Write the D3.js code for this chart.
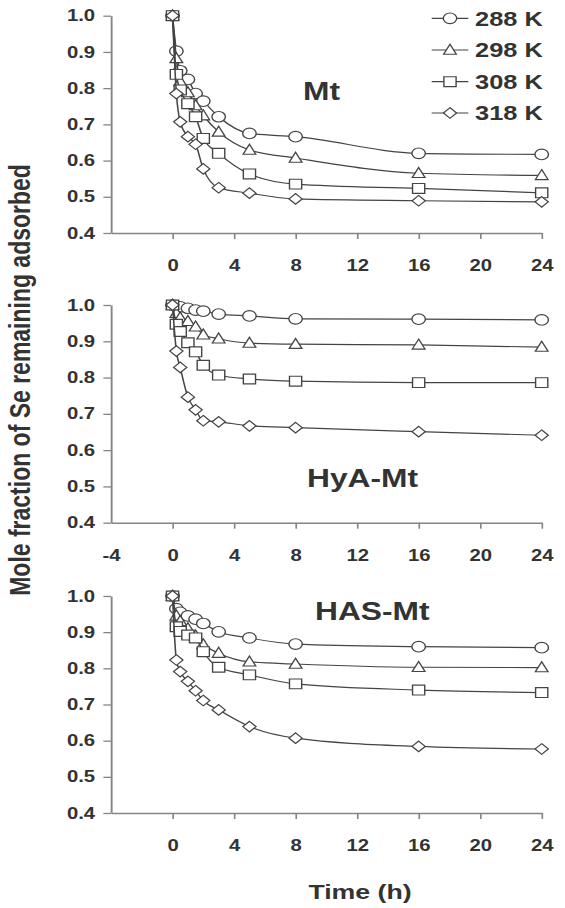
<!DOCTYPE html>
<html>
<head>
<meta charset="utf-8">
<script src="https://cdn.jsdelivr.net/npm/d3@7"></script>
<style>
  body { margin: 0; background: #fff; }
  svg { display: block; }
  text { font-family: "Liberation Sans", Arial, sans-serif; font-weight: bold; fill: #333; }
</style>
</head>
<body>
<svg id="chart" width="565" height="908"></svg>
<script>
// sampling times (h)
var times = [0, 0.25, 0.5, 1, 1.5, 2, 3, 5, 8, 16, 24];
var tempLabels = ["288 K", "298 K", "308 K", "318 K"];
var shapes = ["circle", "triangle", "square", "diamond"];
var panelTitles = ["Mt", "HyA-Mt", "HAS-Mt"];
var xTicks = [0, 4, 8, 12, 16, 20, 24];
var xTicksWithNeg = [-4, 0, 4, 8, 12, 16, 20, 24];
var yTicks = [0.4, 0.5, 0.6, 0.7, 0.8, 0.9, 1.0];

// one row per temperature, 288 K .. 318 K
var mtSeries = [
  [1.0, 0.902, 0.848, 0.824, 0.785, 0.764, 0.721, 0.675, 0.666, 0.620, 0.617],
  [1.0, 0.882, 0.818, 0.788, 0.752, 0.724, 0.679, 0.629, 0.607, 0.565, 0.559],
  [1.0, 0.838, 0.795, 0.757, 0.721, 0.661, 0.620, 0.563, 0.535, 0.523, 0.511],
  [1.0, 0.785, 0.707, 0.666, 0.645, 0.577, 0.525, 0.510, 0.494, 0.489, 0.486]
];
var hyaSeries = [
  [1.0, 0.997, 0.995, 0.991, 0.986, 0.983, 0.975, 0.970, 0.962, 0.961, 0.959],
  [1.0, 0.977, 0.965, 0.955, 0.940, 0.918, 0.907, 0.895, 0.892, 0.890, 0.884],
  [1.0, 0.947, 0.927, 0.896, 0.871, 0.834, 0.807, 0.796, 0.790, 0.786, 0.786],
  [1.0, 0.873, 0.828, 0.746, 0.711, 0.681, 0.678, 0.667, 0.662, 0.651, 0.641]
];
var hasSeries = [
  [1.0, 0.965, 0.955, 0.945, 0.936, 0.924, 0.901, 0.884, 0.867, 0.860, 0.857],
  [1.0, 0.945, 0.930, 0.910, 0.890, 0.866, 0.842, 0.818, 0.812, 0.803, 0.802],
  [1.0, 0.915, 0.902, 0.892, 0.884, 0.846, 0.803, 0.782, 0.757, 0.740, 0.733],
  [1.0, 0.823, 0.791, 0.764, 0.738, 0.711, 0.685, 0.639, 0.607, 0.584, 0.577]
];

var SX = 1.27; // the figure is stretched horizontally
var ix = function(x) { return x / SX; };
var ink = "#444";
var axisColor = "#858585";

var panels = [
  { series: mtSeries,  top: 15.7, bottom: 233,   titleX: 303, titleY: 100, ticks: xTicks },
  { series: hyaSeries, top: 305,  bottom: 522.7, titleX: 307, titleY: 487, ticks: xTicksWithNeg },
  { series: hasSeries, top: 596,  bottom: 813,   titleX: 315, titleY: 620, ticks: xTicks }
];

var markerPath = function(shape) {
  if (shape === "circle") {
    return d3.symbol(d3.symbolCircle, Math.PI * 5.3 * 5.3)();
  } else if (shape === "square") {
    return "M-4.8,-4.9H4.8V4.9H-4.8Z";
  } else if (shape === "triangle") {
    return "M0,-5.8L5,4.2H-5Z";
  } else {
    return "M0,-5.3L5.2,0L0,5.3L-5.2,0Z";
  }
};

// plain hyphen for negatives, like the original
var fmtX = function(d) { return String(d); };

var svg = d3.select("#chart");
var root = svg.append("g").attr("transform", "scale(" + SX + ",1)");

var x = d3.scaleLinear().domain([-4, 24]).range([ix(111), ix(541.7)]);

panels.forEach(function(p, pi) {
  var y = d3.scaleLinear().domain([0.4, 1.0]).range([p.bottom, p.top]);
  var g = root.append("g");

  var xAxis = g.append("g")
    .attr("transform", "translate(0," + p.bottom + ")")
    .call(d3.axisBottom(x).tickValues(p.ticks).tickSize(6).tickSizeOuter(0).tickFormat(fmtX));
  xAxis.select(".domain").attr("stroke", axisColor).attr("stroke-width", 1.5);
  xAxis.selectAll(".tick line").attr("stroke", axisColor).attr("stroke-width", 1.3)
    .filter(function(d) { return d === -4; }).remove();
  xAxis.selectAll(".tick text").attr("y", 38).attr("dy", null)
    .attr("font-size", 16).attr("font-family", null).attr("fill", "#333");

  var yAxis = g.append("g")
    .attr("transform", "translate(" + ix(111) + ",0)")
    .call(d3.axisLeft(y).tickValues(yTicks).tickSize(6).tickSizeOuter(0).tickPadding(6.5).tickFormat(d3.format(".1f")));
  yAxis.select(".domain").attr("stroke", axisColor).attr("stroke-width", 1.5);
  yAxis.selectAll(".tick line").attr("stroke", axisColor).attr("stroke-width", 1.3);
  yAxis.selectAll(".tick text").attr("font-size", 16).attr("font-family", null).attr("fill", "#333");

  var line = d3.line()
    .x(function(d, i) { return x(times[i]); })
    .y(function(d) { return y(d); })
    .curve(d3.curveMonotoneX);

  p.series.forEach(function(vals, si) {
    var sg = g.append("g");
    sg.append("path")
      .attr("d", line(vals))
      .attr("fill", "none")
      .attr("stroke", ink)
      .attr("stroke-width", 1.2);
    sg.selectAll("path.m").data(vals).enter().append("path")
      .attr("class", "m")
      .attr("d", markerPath(shapes[si]))
      .attr("transform", function(d, i) { return "translate(" + x(times[i]) + "," + y(d) + ")"; })
      .attr("fill", "#fff")
      .attr("stroke", ink)
      .attr("stroke-width", 1.1);
  });

  g.append("text")
    .attr("x", ix(p.titleX))
    .attr("y", p.titleY)
    .attr("font-size", 25)
    .text(panelTitles[pi]);
});

// legend
var legendY = [18.3, 50, 81.7, 113];
var legend = root.append("g");
tempLabels.forEach(function(label, i) {
  var lg = legend.append("g").attr("transform", "translate(0," + legendY[i] + ")");
  lg.append("line")
    .attr("x1", ix(431.7)).attr("x2", ix(468.3))
    .attr("stroke", ink).attr("stroke-width", 1.2);
  lg.append("path")
    .attr("d", markerPath(shapes[i]))
    .attr("transform", "translate(" + ix(450) + ",0)")
    .attr("fill", "#fff").attr("stroke", ink).attr("stroke-width", 1.1);
  lg.append("text")
    .attr("x", ix(475)).attr("dy", "0.36em")
    .attr("font-size", 20)
    .text(label);
});

// axis titles
root.append("text")
  .attr("x", ix(360)).attr("y", 899)
  .attr("text-anchor", "middle")
  .attr("font-size", 21)
  .text("Time (h)");

root.append("text")
  .attr("transform", "translate(" + ix(30) + ",380) rotate(-90)")
  .attr("text-anchor", "middle")
  .attr("font-size", 23)
  .text("Mole fraction of Se remaining adsorbed");
</script>
</body>
</html>
